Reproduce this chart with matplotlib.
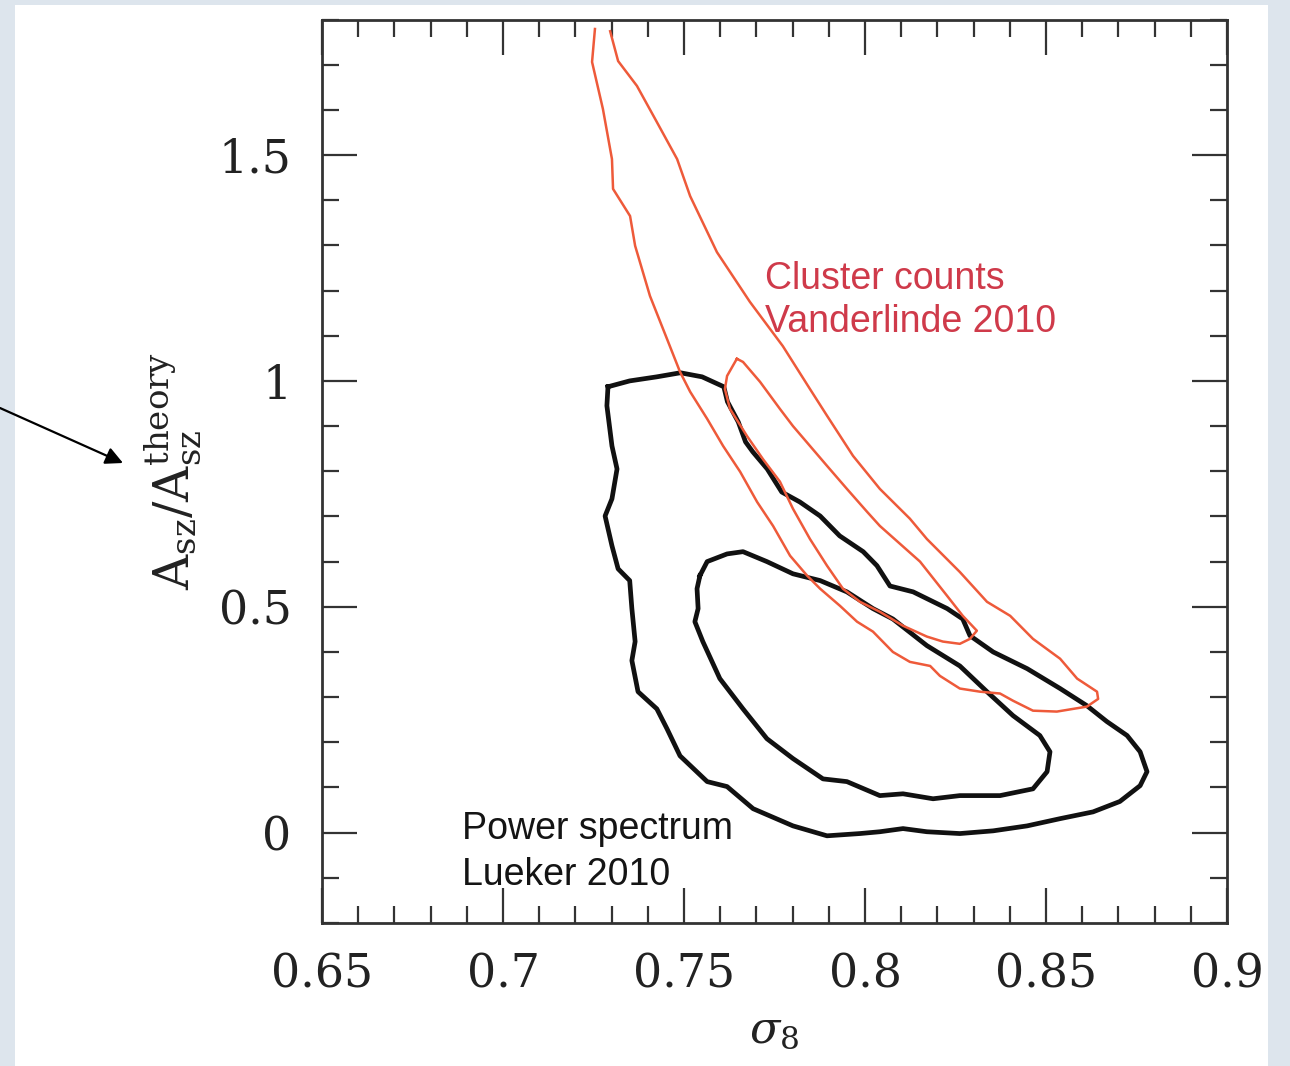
import matplotlib
matplotlib.use("Agg")
import matplotlib.pyplot as plt
from matplotlib.patches import Rectangle
from matplotlib.ticker import MultipleLocator

# ---------------- data ----------------
# Power spectrum (Lueker 2010) 95% contour (closed)
ps_outer_x = [0.729, 0.735, 0.7425, 0.749, 0.755, 0.761, 0.762, 0.765, 0.767, 0.769,
              0.773, 0.777, 0.782, 0.7876, 0.793, 0.7995, 0.8033, 0.8069, 0.8133, 0.8227,
              0.827, 0.829, 0.8354, 0.8448, 0.8539, 0.8613, 0.8668, 0.8724, 0.876, 0.8779,
              0.876, 0.8704, 0.863, 0.8539, 0.8448, 0.8354, 0.8262, 0.8171, 0.8105, 0.8041,
              0.7986, 0.7895, 0.7801, 0.7691, 0.7619, 0.7564, 0.7489, 0.7453, 0.7425, 0.7373,
              0.7356, 0.7365, 0.7356, 0.735, 0.7318, 0.7301, 0.7282, 0.7301, 0.7315, 0.7301,
              0.7287, 0.729]
ps_outer_y = [0.987, 1.000, 1.009, 1.018, 1.009, 0.987, 0.954, 0.909, 0.865, 0.843,
              0.805, 0.754, 0.732, 0.701, 0.657, 0.622, 0.591, 0.546, 0.533, 0.496,
              0.473, 0.436, 0.400, 0.363, 0.319, 0.281, 0.246, 0.215, 0.179, 0.135,
              0.104, 0.069, 0.046, 0.031, 0.015, 0.004, -0.002, 0.002, 0.009, 0.002,
              -0.002, -0.007, 0.015, 0.053, 0.102, 0.113, 0.170, 0.230, 0.274, 0.312,
              0.381, 0.423, 0.496, 0.558, 0.584, 0.635, 0.701, 0.739, 0.805, 0.856,
              0.945, 0.987]

# Power spectrum (Lueker 2010) 68% contour (closed)
ps_inner_x = [0.7544, 0.7564, 0.7619, 0.7663, 0.7729, 0.7801, 0.7876, 0.795, 0.8022, 0.8077,
              0.8171, 0.8262, 0.8337, 0.8409, 0.8483, 0.8511, 0.8503, 0.8464, 0.8373, 0.8262,
              0.8188, 0.8105, 0.8041, 0.795, 0.7884, 0.7801, 0.7729, 0.7663, 0.7599, 0.7552,
              0.753, 0.7539, 0.7536, 0.7544]
ps_inner_y = [0.569, 0.600, 0.617, 0.622, 0.600, 0.573, 0.558, 0.533, 0.496, 0.473,
              0.414, 0.369, 0.312, 0.259, 0.215, 0.179, 0.135, 0.097, 0.082, 0.082,
              0.075, 0.086, 0.082, 0.113, 0.119, 0.164, 0.208, 0.274, 0.341, 0.423,
              0.467, 0.496, 0.540, 0.569]

# Cluster counts (Vanderlinde 2010) 95% contour (open at the top of the plot)
cc_outer_x = [0.7254, 0.7246, 0.7276, 0.7301, 0.7304, 0.7351, 0.7365, 0.7406, 0.7453, 0.7489,
              0.7517, 0.7564, 0.7608, 0.7655, 0.7702, 0.7746, 0.7793, 0.784, 0.7876, 0.7931,
              0.7978, 0.8022, 0.8077, 0.8124, 0.818, 0.8207, 0.8262, 0.8318, 0.8373, 0.8409,
              0.8464, 0.853, 0.8613, 0.8644, 0.8641, 0.8586, 0.8539, 0.8464, 0.8401, 0.8337,
              0.8262, 0.8171, 0.8124, 0.8041, 0.7967, 0.7895, 0.7848, 0.7773, 0.7682, 0.7591,
              0.7517, 0.7481, 0.7425, 0.737, 0.7318, 0.7296]
cc_outer_y = [1.779, 1.706, 1.602, 1.491, 1.425, 1.365, 1.299, 1.188, 1.093, 1.020,
              0.976, 0.916, 0.856, 0.799, 0.732, 0.679, 0.613, 0.569, 0.540, 0.502,
              0.467, 0.445, 0.400, 0.378, 0.369, 0.347, 0.319, 0.312, 0.308, 0.292,
              0.270, 0.268, 0.279, 0.296, 0.312, 0.341, 0.385, 0.429, 0.480, 0.511,
              0.577, 0.650, 0.695, 0.761, 0.834, 0.923, 0.982, 1.077, 1.175, 1.285,
              1.409, 1.491, 1.573, 1.653, 1.708, 1.774]

# Cluster counts (Vanderlinde 2010) 68% contour (closed)
cc_inner_x = [0.7646, 0.7663, 0.771, 0.7765, 0.7801, 0.7848, 0.7895, 0.795, 0.8006, 0.8041,
              0.8152, 0.8227, 0.827, 0.8309, 0.829, 0.8262, 0.8215, 0.8171, 0.8105, 0.8041,
              0.7986, 0.7939, 0.7895, 0.7848, 0.7801, 0.7765, 0.7718, 0.7674, 0.7627, 0.7613,
              0.7619, 0.7646]
cc_inner_y = [1.049, 1.042, 0.998, 0.938, 0.900, 0.856, 0.812, 0.761, 0.710, 0.679,
              0.600, 0.524, 0.480, 0.447, 0.429, 0.418, 0.423, 0.434, 0.458, 0.489,
              0.511, 0.540, 0.591, 0.650, 0.717, 0.777, 0.827, 0.878, 0.938, 0.982,
              1.011, 1.049]

x_ticks = [0.65, 0.7, 0.75, 0.8, 0.85, 0.9]
x_tick_labels = ["0.65", "0.7", "0.75", "0.8", "0.85", "0.9"]
y_ticks = [0, 0.5, 1, 1.5]
y_tick_labels = ["0", "0.5", "1", "1.5"]

ps_label = ["Power spectrum", "Lueker 2010"]
cc_label = ["Cluster counts", "Vanderlinde 2010"]

# ---------------- figure ----------------
plt.rcParams["mathtext.fontset"] = "dejavuserif"

fig = plt.figure(figsize=(12.9, 10.66), dpi=100)
fig.patch.set_facecolor("#dde5ed")
fig.add_artist(Rectangle((15 / 1290, 0), (1268 - 15) / 1290, 1 - 5 / 1066,
                         transform=fig.transFigure, facecolor="white",
                         edgecolor="none", zorder=0))

ax = fig.add_axes([322 / 1290, 1 - 923 / 1066, (1227 - 322) / 1290, (923 - 19.5) / 1066])
ax.set_facecolor("white")

black = "#111111"
red = "#ee5a3a"
ax.plot(ps_outer_x, ps_outer_y, color=black, lw=3.4, solid_joinstyle="round", zorder=2)
ax.plot(ps_inner_x, ps_inner_y, color=black, lw=3.4, solid_joinstyle="round", zorder=2)
ax.plot(cc_outer_x, cc_outer_y, color=red, lw=1.8, solid_joinstyle="round", zorder=3)
ax.plot(cc_inner_x, cc_inner_y, color=red, lw=1.8, solid_joinstyle="round", zorder=3)

ax.set_xlim(0.65, 0.9)
ax.set_ylim(-0.2, 1.8)

ax.set_xticks(x_ticks)
ax.set_xticklabels(x_tick_labels)
ax.set_yticks(y_ticks)
ax.set_yticklabels(y_tick_labels)
ax.xaxis.set_minor_locator(MultipleLocator(0.01))
ax.yaxis.set_minor_locator(MultipleLocator(0.1))

ax.tick_params(which="both", direction="in", top=True, right=True,
               color="#333333", width=1.6)
ax.tick_params(which="major", length=25)
ax.tick_params(which="minor", length=12)
ax.tick_params(axis="x", which="major", pad=21)
ax.tick_params(axis="y", which="major", pad=22)
for lab in ax.get_xticklabels() + ax.get_yticklabels():
    lab.set_family("DejaVu Serif")
    lab.set_fontsize(33)
    lab.set_color("#222222")
for s in ax.spines.values():
    s.set_linewidth(2.0)
    s.set_color("#333333")

ax.set_xlabel(r"$\sigma_8$", fontsize=32, color="#222222")
ax.xaxis.set_label_coords(0.5, -0.095)
ax.set_ylabel(r"$\mathrm{A_{sz}/A_{sz}^{theory}}$", fontsize=35, color="#222222")
ax.yaxis.set_label_coords(-0.13, 0.5)

txt_kw = dict(family=["Liberation Sans", "DejaVu Sans"], fontsize=27)
ax.text(0.7724, 1.204, cc_label[0], color="#cf3a4a", ha="left", va="baseline", **txt_kw)
ax.text(0.7724, 1.108, cc_label[1], color="#cf3a4a", ha="left", va="baseline", **txt_kw)
ax.text(0.6887, -0.013, ps_label[0], color="#141414", ha="left", va="baseline", **txt_kw)
ax.text(0.6887, -0.115, ps_label[1], color="#141414", ha="left", va="baseline", **txt_kw)

# arrow pointing at the y-axis label
ax.annotate("", xy=(123 / 1290, 1 - 463 / 1066), xycoords="figure fraction",
            xytext=(0.0, 1 - 408 / 1066), textcoords="figure fraction",
            arrowprops=dict(arrowstyle="-|>", color="black", lw=1.6,
                            mutation_scale=26, shrinkA=0, shrinkB=0),
            annotation_clip=False)

fig.savefig("out.png", dpi=100, facecolor=fig.get_facecolor())
